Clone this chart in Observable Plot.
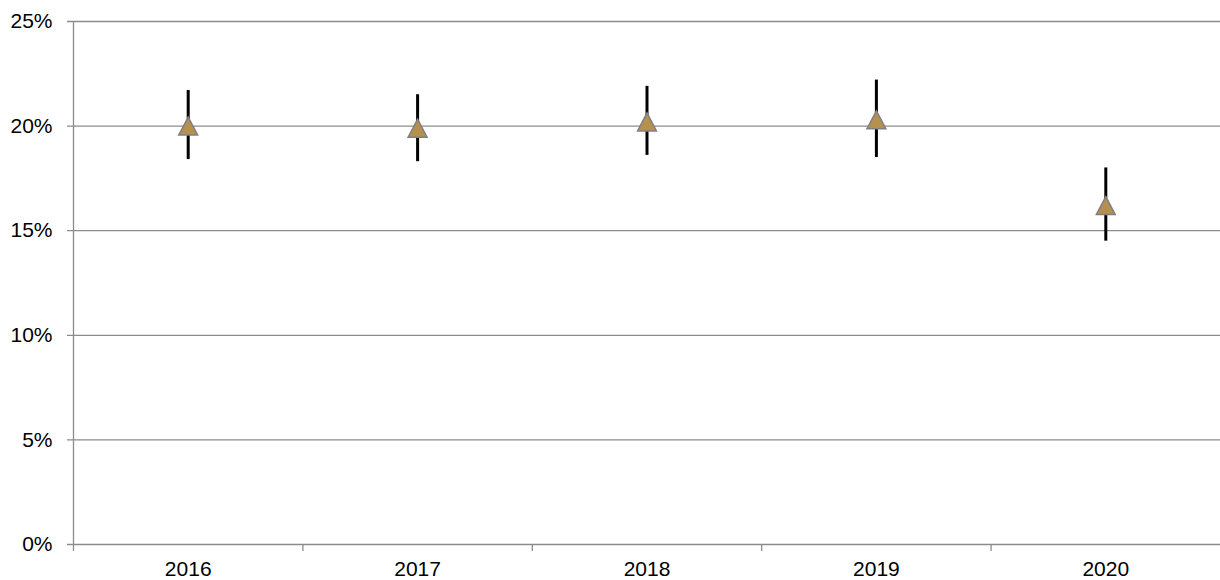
<!DOCTYPE html>
<html>
<head>
<meta charset="utf-8">
<script src="https://cdn.jsdelivr.net/npm/d3@7"></script>
<script src="https://cdn.jsdelivr.net/npm/@observablehq/plot@0.6"></script>
<style>
  html, body { margin: 0; padding: 0; background: #fff; }
</style>
</head>
<body>
<div id="chart"></div>
<script>
// Annual share (%) with confidence interval bounds
const years = [2016, 2017, 2018, 2019, 2020];
const estimate = [20.0, 19.9, 20.2, 20.3, 16.2];
const lower = [18.4, 18.3, 18.6, 18.5, 14.5];
const upper = [21.7, 21.5, 21.9, 22.2, 18.0];
const yTicks = [0, 5, 10, 15, 20, 25];

const rows = years.map((year, i) => ({ year, value: estimate[i], lo: lower[i], hi: upper[i] }));
// category boundaries, where the x-axis tick marks sit
const edges = [years[0] - 0.5, ...years.map((y) => y + 0.5)];

// triangle marker whose bounding box is centred on the value
const triangle = {
  draw(ctx, size) {
    const h = Math.sqrt(size / Math.PI) * 1.8;
    const w = h * 1.05;
    ctx.moveTo(0, -h / 2);
    ctx.lineTo(w / 2, h / 2);
    ctx.lineTo(-w / 2, h / 2);
    ctx.closePath();
  }
};

const axisGray = "#8c8c8c";

const chart = Plot.plot({
  width: 1220,
  height: 580,
  marginLeft: 73,
  marginRight: 0,
  marginTop: 21,
  marginBottom: 36,
  style: { fontFamily: "'Liberation Sans', Arial, sans-serif", fontSize: "21px", color: "#000", background: "#fff" },
  x: { type: "linear", domain: [edges[0], edges[edges.length - 1]], label: null },
  y: { domain: [0, 25], label: null },
  marks: [
    Plot.ruleY(yTicks, { stroke: axisGray, strokeWidth: 1.3, insetLeft: -6 }),
    Plot.ruleX([edges[0]], { y1: 0, y2: 25, stroke: axisGray, strokeWidth: 1.3 }),
    Plot.axisX({ ticks: edges.slice(0, -1), tickSize: 7, tickFormat: () => "", stroke: axisGray, strokeWidth: 1.3 }),
    Plot.axisX({ ticks: years, tickSize: 0, tickPadding: 17, tickFormat: (d) => String(d), fill: "#000" }),
    Plot.axisY({ ticks: yTicks, tickSize: 0, tickPadding: 21, tickFormat: (d) => d + "%", fill: "#000" }),
    Plot.ruleX(rows, { x: "year", y1: "lo", y2: "hi", stroke: "#000", strokeWidth: 3 }),
    Plot.dot(rows, { x: "year", y: "value", symbol: triangle, r: 10, fill: "#B5904F", stroke: "#808080", strokeWidth: 1.5 })
  ]
});

document.getElementById("chart").appendChild(chart);
</script>
</body>
</html>
